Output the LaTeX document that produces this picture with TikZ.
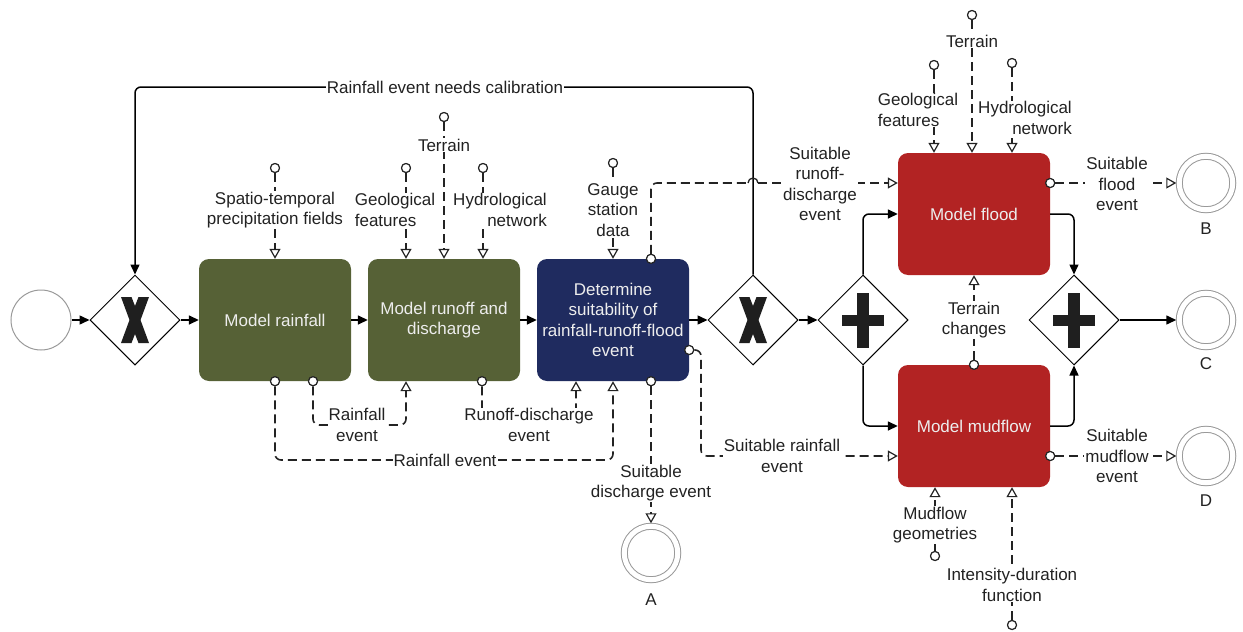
\documentclass[tikz,border=0pt]{standalone}
\usepackage{fontspec}
\setmainfont{Liberation Sans}
\usetikzlibrary{arrows.meta,shapes.geometric}
\definecolor{boxgreen}{RGB}{86,97,54}
\definecolor{boxnavy}{RGB}{31,43,95}
\definecolor{boxred}{RGB}{178,35,35}
\definecolor{txt}{RGB}{34,34,34}
\definecolor{linegray}{RGB}{35,35,35}
\begin{document}
\begin{tikzpicture}[x=1pt,y=-1pt,
  every node/.style={font=\fontsize{17}{20.5}\selectfont, text=txt},
  task/.style={rectangle, rounded corners=10pt, minimum width=152pt, minimum height=122pt, inner sep=2pt, align=center, text=white!93!black},
  gw/.style={diamond, draw=black, fill=white, line width=1pt, minimum width=90pt, minimum height=90pt, inner sep=0pt},
  flow/.style={draw=black, line width=1.5pt, rounded corners=6pt, -{Triangle[length=10pt,width=9pt]}},
  assoc/.style={draw=linegray, line width=1.6pt, dash pattern=on 9pt off 5pt, rounded corners=6pt, -{Triangle[open,length=10pt,width=11pt,line width=1.2pt]}},
  plainassoc/.style={draw=linegray, line width=1.6pt, dash pattern=on 9pt off 5pt, rounded corners=6pt},
  src/.style={circle, draw=linegray, fill=white, line width=1.1pt, inner sep=0pt, minimum size=9pt},
  lbl/.style={fill=white, inner sep=1pt, align=center},
  endev/.style={circle, draw=gray!80, line width=1pt, double=white, double distance=5pt, minimum size=53.5pt, inner sep=0pt, outer sep=3pt},
  startev/.style={circle, draw=gray!80, line width=1pt, minimum size=60pt, inner sep=0pt},
  gwsign/.style={fill=black!88}
]
\useasboundingbox (0,0) rectangle (1243,632);

% events
\node[startev] (start) at (41,320) {};
\node[endev] (eA) at (651,553) {};
\node[endev] (eB) at (1206,183) {};
\node[endev] (eC) at (1206,320) {};
\node[endev] (eD) at (1206,456) {};
\node (lA) at (651,600) {A};
\node (lB) at (1206,229) {B};
\node (lC) at (1206,364) {C};
\node (lD) at (1206,501) {D};

% gateways
\node[gw] (g1) at (135,320) {};
\node[gw] (g2) at (753,320) {};
\node[gw] (p1) at (863,320) {};
\node[gw] (p2) at (1074,320) {};
\foreach \g in {g1,g2}{
  \fill[gwsign, shift={(\g.center)}] (-14,-23) -- (-3.5,-23) -- (0,-14) -- (3.5,-23) -- (14,-23) -- (5.5,0) -- (14,23) -- (3.5,23) -- (0,14) -- (-3.5,23) -- (-14,23) -- (-5.5,0) -- cycle;
}
\foreach \g in {p1,p2}{
  \fill[gwsign, shift={(\g.center)}] (-6,-27.5) rectangle (6,27.5);
  \fill[gwsign, shift={(\g.center)}] (-21,-5.5) rectangle (21,5.5);
}

% tasks
\node[task, fill=boxgreen] (mr) at (275,320) {Model rainfall};
\node[task, fill=boxgreen] (mrd) at (444,320) {Model runoff and\\discharge};
\node[task, fill=boxnavy] (ds) at (613,320) {Determine\\suitability of\\rainfall-runoff-flood\\event};
\node[task, fill=boxred] (mf) at (974,214) {Model flood};
\node[task, fill=boxred] (mm) at (974,426) {Model mudflow};

% sequence flows
\draw[flow] (start) -- (g1);
\draw[flow] (g1) -- (mr);
\draw[flow] (mr) -- (mrd);
\draw[flow] (mrd) -- (ds);
\draw[flow] (ds) -- (g2);
\draw[flow] (g2) -- (p1);
\draw[flow] (p1.north) |- (mf.west);
\draw[flow] (p1.south) |- (mm.west);
\draw[flow] (mf.east) -| (p2.north);
\draw[flow] (mm.east) -| (p2.south);
\draw[flow] (p2) -- (eC);
\coordinate (calib) at (445,87);
\draw[flow] (g2.north) |- (calib) -| (g1.north);

% source circles
\node[src] (s1) at (275,168) {};
\node[src] (s2) at (406,168) {};
\node[src] (s3) at (444,117) {};
\node[src] (s4) at (483,168) {};
\node[src] (s5) at (613,163) {};
\node[src] (s6) at ([xshift=38pt]ds.north) {};
\node[src] (s7) at ([yshift=-30pt]ds.east) {};
\node[src] (s8) at ([xshift=38pt]ds.south) {};
\node[src] (s9) at (mr.south) {};
\node[src] (s10) at ([xshift=38pt]mr.south) {};
\node[src] (s11) at ([xshift=38pt]mrd.south) {};
\node[src] (t1) at (934,65) {};
\node[src] (t2) at (972,15) {};
\node[src] (t3) at (1012,63) {};
\node[src] (t4) at ([yshift=31pt]mf.east) {};
\node[src] (t5) at (mm.north) {};
\node[src] (t6) at ([yshift=-30pt]mm.east) {};
\node[src] (t7) at (935,556) {};
\node[src] (t8) at (1012,625) {};

% data associations
\draw[assoc] (s1) -- (s1 |- mr.north);
\draw[assoc] (s2) -- (s2 |- mrd.north);
\draw[assoc] (s3) -- (s3 |- mrd.north);
\draw[assoc] (s4) -- (s4 |- mrd.north);
\draw[assoc] (s5) -- (s5 |- ds.north);
\coordinate (hopL) at (748,183);
\coordinate (hopR) at (758,183);
\draw[plainassoc] (s6) |- (hopL);
\draw[draw=linegray, line width=1.3pt] (hopL) arc[start angle=180, end angle=360, radius=5];
\draw[assoc] (hopR) -- ([yshift=31pt]mf.west);
\coordinate (a7c) at (701,456);
\draw[assoc] (s7) -| (a7c) -- ([yshift=-30pt]mm.west);
\draw[assoc] (s8) -- (eA);
\coordinate (rfc) at (445,460);
\draw[assoc] (s9) |- (rfc) -| (ds.south);
\coordinate (rf2c) at (357,425);
\draw[assoc] (s10) |- (rf2c) -| ([xshift=-38pt]mrd.south);
\coordinate (rdc) at (529,425);
\draw[assoc] (s11) |- (rdc) -| ([xshift=-37pt]ds.south);
\draw[assoc] (t1) -- (t1 |- mf.north);
\draw[assoc] (t2) -- (t2 |- mf.north);
\draw[assoc] (t3) -- (t3 |- mf.north);
\draw[assoc] (t4) -- (eB);
\draw[assoc] (t5) -- (mf.south);
\draw[assoc] (t6) -- (eD);
\draw[assoc] (t7) -- (t7 |- mm.south);
\draw[assoc] (t8) -- (t8 |- mm.south);

% redraw source circles on top
\foreach \s in {s1,s2,s3,s4,s5,s6,s7,s8,s9,s10,s11,t1,t2,t3,t4,t5,t6,t7,t8}{
  \draw[linegray, fill=white, line width=1.1pt] (\s.center) circle[radius=4.5pt];
}

% labels
\node[lbl] (lcalib) at (calib) {Rainfall event needs calibration};
\node[lbl] (l1) at (275,210) {Spatio-temporal\\precipitation fields};
\node[lbl, align=left] (l2) at (395,210) {Geological\\features};
\node[lbl] (l3) at (444,145) {Terrain};
\node[lbl, align=right] (l4) at (500,210) {Hydrological\\network};
\node[lbl] (l5) at (613,210) {Gauge\\station\\data};
\node[lbl] (l6) at (820,184) {Suitable\\runoff-\\discharge\\event};
\node[lbl] (l7) at (782,456) {Suitable rainfall\\event};
\node[lbl] (l8) at (651,483) {Suitable\\discharge event};
\node[lbl] (l9) at (rfc) {Rainfall event};
\node[lbl] (l10) at (rf2c) {Rainfall\\event};
\node[lbl] (l11) at (rdc) {Runoff-discharge\\event};
\node[lbl, align=left] (m1) at (918,110) {Geological\\features};
\node[lbl] (m2) at (972,41) {Terrain};
\node[lbl, align=right] (m3) at (1025,118) {Hydrological\\network};
\node[lbl] (m4) at (1117,184) {Suitable\\flood\\event};
\node[lbl] (m5) at (974,320) {Terrain\\changes};
\node[lbl] (m6) at (1117,456) {Suitable\\mudflow\\event};
\node[lbl] (m7) at (935,525) {Mudflow\\geometries};
\node[lbl] (m8) at (1012,585) {Intensity-duration\\function};
\end{tikzpicture}
\end{document}
